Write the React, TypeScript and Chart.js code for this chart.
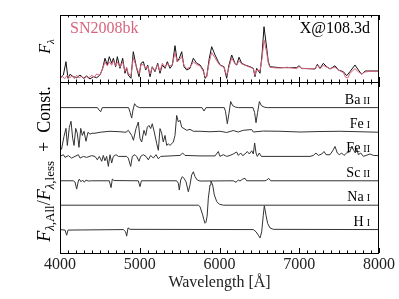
import React, { useEffect, useRef } from "react";
import { Chart, registerables } from "chart.js";
Chart.register(...registerables);

const SERIF = '"Liberation Serif", "Times New Roman", Times, serif';
const PINK = "#d9637e";

// x axis
const xMin = 4000;
const xMax = 8000;
const xMajorStep = 1000;
const xMinorStep = 100;

// top panel: observed spectrum and model
const obsWave = [4000,4030,4060,4090,4120,4150,4180,4210,4240,4270,4300,4330,4360,4400,4430,4460,4500,4535,4564,4593,4618,4648,4669,4698,4719,4752,4786,4815,4836,4856,4890,4919,4961,4991,5016,5045,5075,5100,5129,5157,5191,5225,5254,5283,5317,5346,5379,5409,5442,5471,5496,5526,5555,5589,5630,5672,5714,5756,5797,5818,5839,5872,5902,5944,5985,6006,6056,6090,6119,6153,6194,6215,6245,6278,6320,6383,6424,6445,6466,6508,6533,6558,6592,6612,6633,6700,6759,6850,6968,6997,7031,7100,7198,7227,7260,7302,7344,7386,7448,7490,7553,7580,7610,7636,7699,7741,7783,7825,7900,8000];
const obsFlux = [0.06,0.08,0.05,0.1,0.06,0.09,0.05,0.1,0.06,0.09,0.05,0.08,0.06,0.1,0.07,0.12,0.1,0.2,0.3,0.24,0.3,0.25,0.32,0.24,0.3,0.22,0.3,0.16,0.22,0.12,0.1,0.36,0.22,0.12,0.26,0.26,0.2,0.24,0.12,0.22,0.17,0.26,0.16,0.28,0.22,0.27,0.24,0.26,0.44,0.3,0.33,0.38,0.25,0.2,0.22,0.3,0.26,0.24,0.16,0.08,0.08,0.3,0.44,0.36,0.28,0.25,0.22,0.1,0.22,0.36,0.27,0.25,0.32,0.27,0.25,0.22,0.2,0.1,0.18,0.17,0.35,0.63,0.44,0.28,0.22,0.21,0.21,0.22,0.2,0.23,0.2,0.2,0.2,0.25,0.2,0.25,0.22,0.2,0.22,0.18,0.14,0.07,0.06,0.13,0.2,0.15,0.12,0.15,0.16,0.16];

const modelWave = [4000,4042,4075,4100,4125,4167,4209,4251,4293,4334,4376,4418,4460,4502,4535,4564,4593,4618,4648,4669,4698,4719,4752,4786,4815,4836,4856,4890,4919,4961,4991,5016,5045,5075,5100,5129,5157,5191,5225,5254,5283,5317,5346,5379,5409,5442,5471,5496,5526,5555,5589,5630,5672,5714,5756,5797,5818,5839,5872,5902,5944,5985,6006,6056,6090,6119,6153,6194,6215,6245,6278,6320,6383,6424,6445,6466,6508,6533,6558,6592,6612,6633,6759,6968,6997,7031,7198,7227,7260,7302,7344,7386,7448,7490,7553,7595,7636,7699,7741,7783,7825,8000];
const modelFlux = [0.055,0.104,0.303,0.055,0.115,0.079,0.064,0.104,0.055,0.09,0.045,0.079,0.064,0.104,0.204,0.354,0.254,0.378,0.279,0.354,0.228,0.378,0.204,0.354,0.13,0.204,0.104,0.055,0.452,0.204,0.079,0.279,0.303,0.179,0.254,0.079,0.228,0.154,0.279,0.13,0.254,0.204,0.303,0.204,0.254,0.542,0.303,0.354,0.452,0.228,0.179,0.204,0.354,0.279,0.254,0.179,0.055,0.079,0.354,0.527,0.403,0.303,0.254,0.228,0.055,0.254,0.403,0.279,0.254,0.369,0.279,0.254,0.228,0.204,0.079,0.204,0.13,0.403,0.825,0.503,0.303,0.228,0.214,0.214,0.243,0.204,0.194,0.264,0.204,0.279,0.228,0.194,0.243,0.179,0.154,0.094,0.154,0.254,0.179,0.115,0.164,0.164];

// bottom panel: flux ratios per species
const baWave = [4000,4470,4490,4510,4530,4860,4880,4899,4915,4935,4960,5000,5780,5806,5830,6060,6075,6098,6118,6140,6165,6200,6240,6420,6440,6458,6478,6500,6525,6560,6600,8000];
const baRatio = [1,1,0.9,0.83,1,1,0.8,0.57,0.9,1.16,1.05,1,1,0.86,1,1,0.85,0.34,0.75,1.25,1.08,1.02,1,1,0.8,0.38,0.8,1.25,1.08,1.02,1,1];

const fe1Wave = [4000,4019,4050,4075,4092,4117,4138,4159,4176,4197,4217,4238,4260,4280,4301,4326,4351,4376,4401,4439,4502,4627,4752,4828,4856,4899,4921,4953,4982,5003,5024,5053,5075,5095,5116,5137,5157,5182,5213,5233,5254,5275,5295,5317,5338,5358,5379,5421,5442,5463,5484,5505,5526,5555,5589,5630,5672,5756,5881,6006,6090,6172,6236,6298,6404,6424,6549,6759,7010,7260,7511,7762,8000];
const fe1Ratio = [0.37,0.29,0.82,1.15,0.45,1.19,1.44,0.74,0.45,1.15,0.95,0.37,1.15,0.86,1.03,0.62,0.99,0.91,0.95,0.95,0.99,1.03,1.01,0.99,1.07,0.86,0.66,1.14,1.41,0.73,0.59,1.07,0.86,1.2,1.27,1.14,1.34,1.0,0.52,0.25,1.14,0.95,0.59,0.86,0.45,0.52,0.45,0.59,0.86,1.68,1.41,1.48,1.2,1.14,1.07,1.11,1.03,1.03,1.01,1.03,0.98,1.06,1.0,1.07,1.1,1.0,1.04,1.03,1.0,1.02,1.03,1.01,0.99];

const fe2Wave = [4000,4042,4063,4105,4146,4188,4230,4251,4293,4334,4397,4439,4468,4493,4523,4543,4564,4585,4606,4627,4648,4669,4702,4731,4836,4856,4886,4907,4940,4961,4991,5011,5045,5078,5107,5137,5170,5204,5233,5263,5505,5538,5567,5756,5944,5985,6006,6048,6090,6132,6173,6215,6236,6266,6291,6320,6349,6374,6404,6424,6441,6458,6474,6499,6524,7135,7177,7210,7239,7282,7311,7336,7386,7427,7448,7477,7502,7532,7561,7595,7636,7658,7687,7703,7720,7741,7771,7804,7888,7929,8000];
const fe2Ratio = [1.0,1.07,0.96,1.03,0.93,1.0,1.07,0.93,1.0,0.96,1.03,1.0,0.86,1.0,0.8,1.04,0.82,1.0,0.59,1.07,0.73,1.0,1.07,1.0,1.0,0.93,0.59,1.0,1.07,1.0,0.8,1.0,1.07,1.0,0.86,1.04,0.93,1.07,0.9,1.0,1.04,1.14,1.04,1.02,1.02,1.2,1.0,1.07,1.0,1.04,1.1,1.18,1.04,1.14,1.03,1.1,1.2,1.1,1.23,1.1,1.55,1.14,1.0,1.14,1.0,1.0,1.04,1.14,1.04,1.1,1.2,1.07,1.07,1.27,1.41,1.14,1.07,1.14,1.04,1.14,1.2,1.41,1.23,1.14,1.34,1.07,1.14,1.0,1.1,1.04,1.03];

const scWave = [4000,4167,4188,4209,4230,4242,4263,4284,4305,4326,4355,4397,4618,4640,4656,4677,4982,5003,5020,5463,5484,5496,5513,5534,5555,5580,5609,5630,5651,5672,5693,5722,5756,6173,6207,6236,6257,6291,6320,6341,6571,6592,6617,6642,8000];
const scRatio = [1,1,0.95,0.66,0.99,1.07,0.96,1.03,0.94,1.03,0.99,1,1,0.72,1.07,1.01,1,0.76,1,1,0.9,0.62,1.03,1.17,1.1,0.96,0.55,0.83,1.24,1.37,1.17,1.03,0.99,1,0.94,1.03,0.99,1.07,1.1,1,1,1.03,1.1,1,1];

const naWave = [4000,5734,5756,5789,5805,5818,5830,5845,5860,5881,5893,5914,5935,5965,5998,6048,8000];
const naRatio = [1,1,0.94,0.6,0.4,0.26,0.3,0.55,1.29,1.83,1.99,1.83,1.42,1.15,1.04,1,1];

const hWave = [4000,4063,4084,4100,4794,4823,4836,4853,4878,6424,6458,6487,6508,6529,6549,6562,6583,6604,6633,6675,8000];
const hRatio = [1,0.98,0.77,0.98,1,0.91,0.73,1.07,1.01,1,0.91,0.77,0.66,0.91,1.59,1.98,1.59,1.25,1.07,1.01,1];

const speciesElements = ["Ba", "Fe", "Fe", "Sc", "Na", "H"];
const speciesIons = ["II", "I", "II", "II", "I", "I"];
const speciesOffsets = [5, 4, 3, 2, 1, 0];
const speciesWaves = [baWave, fe1Wave, fe2Wave, scWave, naWave, hWave];
const speciesRatios = [baRatio, fe1Ratio, fe2Ratio, scRatio, naRatio, hRatio];

const topLabel = "SN2008bk";
const epochLabel = "X@108.3d";
const xTitle = "Wavelength [Å]";

const toPoints = (w: number[], v: number[], off = 0) =>
  w.slice(0, Math.min(w.length, v.length)).map((x, i) => ({ x, y: v[i] + off }));

function drawRich(ctx: CanvasRenderingContext2D, parts: { t: string; f: string; dy: number }[], cx: number, cy: number) {
  ctx.save();
  ctx.translate(cx, cy);
  ctx.rotate(-Math.PI / 2);
  let total = 0;
  for (const p of parts) {
    ctx.font = p.f;
    total += ctx.measureText(p.t).width;
  }
  let x = -total / 2;
  ctx.textBaseline = "alphabetic";
  ctx.textAlign = "left";
  for (const p of parts) {
    ctx.font = p.f;
    ctx.fillText(p.t, x, p.dy);
    x += ctx.measureText(p.t).width;
  }
  ctx.restore();
}

const decorPlugin = {
  id: "decor",
  afterDraw(chart: any) {
    const { ctx, scales } = chart;
    const xs = scales.x, yT = scales.yTop, yB = scales.yBot;
    const L = xs.left, R = xs.right;
    ctx.save();
    ctx.strokeStyle = "#000";
    ctx.lineWidth = 1;
    for (const s of [yT, yB]) {
      ctx.strokeRect(Math.round(L) + 0.5, Math.round(s.top) + 0.5, Math.round(R - L) - 1, Math.round(s.bottom - s.top));
    }
    ctx.beginPath();
    for (let v = xMin; v <= xMax; v += xMinorStep) {
      const px = Math.round(xs.getPixelForValue(v)) + 0.5;
      const len = v % xMajorStep === 0 ? 5 : 2.5;
      for (const s of [yT, yB]) {
        ctx.moveTo(px, s.top);
        ctx.lineTo(px, s.top + len);
        ctx.moveTo(px, s.bottom);
        ctx.lineTo(px, s.bottom - len);
      }
    }
    ctx.stroke();

    // panel labels
    ctx.textBaseline = "alphabetic";
    ctx.font = `16px ${SERIF}`;
    ctx.fillStyle = PINK;
    ctx.textAlign = "left";
    ctx.fillText(topLabel, L + 10, yT.top + 18);
    ctx.fillStyle = "#000";
    ctx.textAlign = "right";
    ctx.fillText(epochLabel, R - 9, yT.top + 18);

    // species labels
    for (let i = 0; i < speciesElements.length; i++) {
      const yb = yB.getPixelForValue(1 + speciesOffsets[i] + 0.16);
      ctx.font = `10px ${SERIF}`;
      const ionW = ctx.measureText(speciesIons[i]).width;
      ctx.textAlign = "right";
      ctx.fillText(speciesIons[i], R - 9, yb);
      ctx.font = `14px ${SERIF}`;
      ctx.fillText(speciesElements[i], R - 9 - ionW - 3, yb);
    }

    // y titles
    ctx.fillStyle = "#000";
    drawRich(ctx, [
      { t: "F", f: `italic 16px ${SERIF}`, dy: 0 },
      { t: "λ", f: `italic 11px ${SERIF}`, dy: 3.5 },
    ], 50, (yT.top + yT.bottom) / 2 - 2);
    drawRich(ctx, [
      { t: "F", f: `italic 18px ${SERIF}`, dy: 0 },
      { t: "λ", f: `italic 13px ${SERIF}`, dy: 3.5 },
      { t: ",All", f: `13px ${SERIF}`, dy: 3.5 },
      { t: "/", f: `18px ${SERIF}`, dy: 0 },
      { t: "F", f: `italic 18px ${SERIF}`, dy: 0 },
      { t: "λ", f: `italic 13px ${SERIF}`, dy: 3.5 },
      { t: ",less", f: `13px ${SERIF}`, dy: 3.5 },
      { t: "  +  Const.", f: `18px ${SERIF}`, dy: 0 },
    ], 50, 164);
    ctx.restore();
  },
};

export default function App() {
  const ref = useRef<HTMLCanvasElement>(null);
  useEffect(() => {
    if (!ref.current) return;
    const datasets: any[] = [
      { label: topLabel, data: toPoints(obsWave, obsFlux), yAxisID: "yTop", borderColor: PINK, borderWidth: 1, pointRadius: 0, tension: 0 },
      { label: "model", data: toPoints(modelWave, modelFlux), yAxisID: "yTop", borderColor: "#111", borderWidth: 1, pointRadius: 0, tension: 0 },
    ];
    for (let i = 0; i < speciesElements.length; i++) {
      datasets.push({
        label: `${speciesElements[i]} ${speciesIons[i]}`,
        data: toPoints(speciesWaves[i], speciesRatios[i], speciesOffsets[i]),
        yAxisID: "yBot",
        borderColor: "#333",
        borderWidth: 1,
        pointRadius: 0,
        tension: 0,
      });
    }
    const hidden = {
      display: true,
      ticks: { display: false },
      grid: { display: false, drawTicks: false },
      border: { display: false },
      title: { display: false },
      afterFit: (s: any) => { s.width = 60; },
    };
    const chart = new Chart(ref.current, {
      type: "line",
      data: { datasets },
      plugins: [decorPlugin],
      options: {
        animation: false,
        responsive: false,
        maintainAspectRatio: false,
        events: [],
        layout: { padding: { top: 15, right: 20, left: 0, bottom: 0 } },
        plugins: { legend: { display: false }, tooltip: { enabled: false } },
        scales: {
          x: {
            type: "linear",
            min: xMin,
            max: xMax,
            ticks: {
              stepSize: xMajorStep,
              color: "#222",
              font: { family: SERIF, size: 16 },
              padding: 2,
              maxRotation: 0,
              callback: (v: any) => String(v),
            },
            grid: { display: false, drawTicks: false },
            border: { display: false },
            title: { display: true, text: xTitle, color: "#222", font: { family: SERIF, size: 16 }, padding: { top: 0, bottom: 7 } },
            afterFit: (s: any) => { s.height = 46; },
          },
          yBot: { ...hidden, type: "linear", position: "left", stack: "panels", stackWeight: 171, min: 0.04, max: 7.05 },
          yTop: { ...hidden, type: "linear", position: "left", stack: "panels", stackWeight: 67, min: 0, max: 1 },
        } as any,
      },
    });
    return () => chart.destroy();
  }, []);
  return (
    <div style={{ position: "absolute", left: 0, top: 0, width: 399, height: 299, background: "#fff" }}>
      <canvas ref={ref} width={399} height={299} style={{ display: "block", width: 399, height: 299 }} />
    </div>
  );
}
